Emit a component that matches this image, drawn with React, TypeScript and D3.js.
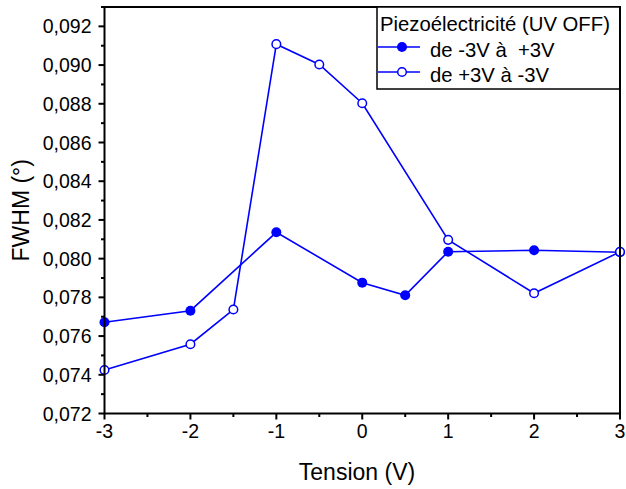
import React from "react";
import * as d3 from "d3";

const xTicks = [-3, -2, -1, 0, 1, 2, 3];
const yTicks = [0.072, 0.074, 0.076, 0.078, 0.08, 0.082, 0.084, 0.086, 0.088, 0.09, 0.092];

const upX = [-3, -2, -1, 0, 0.5, 1, 2, 3];
const upY = [0.07671, 0.07731, 0.08136, 0.07876, 0.07811, 0.08036, 0.08043, 0.08033];

const downX = [-3, -2, -1.5, -1, -0.5, 0, 1, 2, 3];
const downY = [0.07425, 0.07558, 0.07737, 0.09108, 0.09003, 0.08803, 0.08097, 0.07821, 0.08035];

const legendTitle = "Piezoélectricité (UV OFF)";
const legendUp = "de -3V à  +3V";
const legendDown = "de +3V à -3V";

const W = 626, H = 489;
const L = 104.5, R = 620, T = 7, B = 413.5;
const FONT = "'Liberation Sans', Arial, sans-serif";
const BLUE = "#0000ff";

export default function App() {
  const x = d3.scaleLinear().domain([-3, 3]).range([L, R]);
  const y = d3.scaleLinear().domain([0.072, 0.093]).range([B, T]);
  const line = d3.line<[number, number]>().x(d => x(d[0])).y(d => y(d[1]));
  const up = upX.map((v, i) => [v, upY[i]] as [number, number]);
  const down = downX.map((v, i) => [v, downY[i]] as [number, number]);
  const xMinor = d3.range(-3, 3.001, 0.5).filter(v => Math.abs(v - Math.round(v)) > 0.01);
  const yMinor = d3.range(0.073, 0.0931, 0.002);
  const fmt = (v: number) => v.toFixed(3).replace(".", ",");
  const ws = String.fromCharCode(160);

  return (
    <svg width={W} height={H} style={{ position: "absolute", left: 0, top: 0, background: "#fff" }} fontFamily={FONT}>
      <rect x={0} y={0} width={W} height={H} fill="#fff" />
      {/* series */}
      <path d={line(up) || ""} fill="none" stroke={BLUE} strokeWidth={1.6} />
      <path d={line(down) || ""} fill="none" stroke={BLUE} strokeWidth={1.6} />
      {up.map((d, i) => (
        <circle key={"u" + i} cx={x(d[0])} cy={y(d[1])} r={5} fill={BLUE} />
      ))}
      {down.map((d, i) => (
        <circle key={"d" + i} cx={x(d[0])} cy={y(d[1])} r={4.3} fill="#fff" stroke={BLUE} strokeWidth={1.5} />
      ))}
      {/* frame */}
      <rect x={L} y={T} width={R - L} height={B - T} fill="none" stroke="#000" strokeWidth={2} />
      {/* x ticks */}
      {xTicks.map(v => (
        <g key={"xt" + v}>
          <line x1={x(v)} x2={x(v)} y1={B} y2={B + 6} stroke="#000" strokeWidth={2} />
          <text x={x(v)} y={B + 24} fontSize={19.5} textAnchor="middle" fill="#000">{v}</text>
        </g>
      ))}
      {xMinor.map(v => (
        <line key={"xm" + v} x1={x(v)} x2={x(v)} y1={B} y2={B + 3.5} stroke="#000" strokeWidth={2} />
      ))}
      {/* y ticks */}
      {yTicks.map(v => (
        <g key={"yt" + v}>
          <line x1={L - 6} x2={L} y1={y(v)} y2={y(v)} stroke="#000" strokeWidth={2} />
          <text x={L - 13} y={y(v) + 7} fontSize={19.5} textAnchor="end" fill="#000">{fmt(v)}</text>
        </g>
      ))}
      {yMinor.map(v => (
        <line key={"ym" + v} x1={L - 3.5} x2={L} y1={y(v)} y2={y(v)} stroke="#000" strokeWidth={2} />
      ))}
      {/* axis titles */}
      <text x={357} y={480} fontSize={23} textAnchor="middle" fill="#000">Tension (V)</text>
      <text transform={`translate(29,${(T + B) / 2}) rotate(-90)`} fontSize={23} textAnchor="middle" fill="#000">FWHM (°)</text>
      {/* legend */}
      <rect x={377} y={T} width={R - 377} height={82} fill="#fff" stroke="#000" strokeWidth={1.5} />
      <text x={380} y={31} fontSize={20.3} fill="#000">{legendTitle}</text>
      <line x1={378} x2={420} y1={47} y2={47} stroke={BLUE} strokeWidth={1.6} />
      <circle cx={402} cy={47} r={5} fill={BLUE} />
      <text x={430} y={57} fontSize={20.3} fill="#000">{legendUp.replace("  ", " " + ws)}</text>
      <line x1={378} x2={420} y1={72} y2={72} stroke={BLUE} strokeWidth={1.6} />
      <circle cx={402} cy={72} r={4.3} fill="#fff" stroke={BLUE} strokeWidth={1.5} />
      <text x={430} y={82} fontSize={20.3} fill="#000">{legendDown}</text>
      <line x1={R} x2={R} y1={T} y2={B} stroke="#000" strokeWidth={2} />
    </svg>
  );
}
